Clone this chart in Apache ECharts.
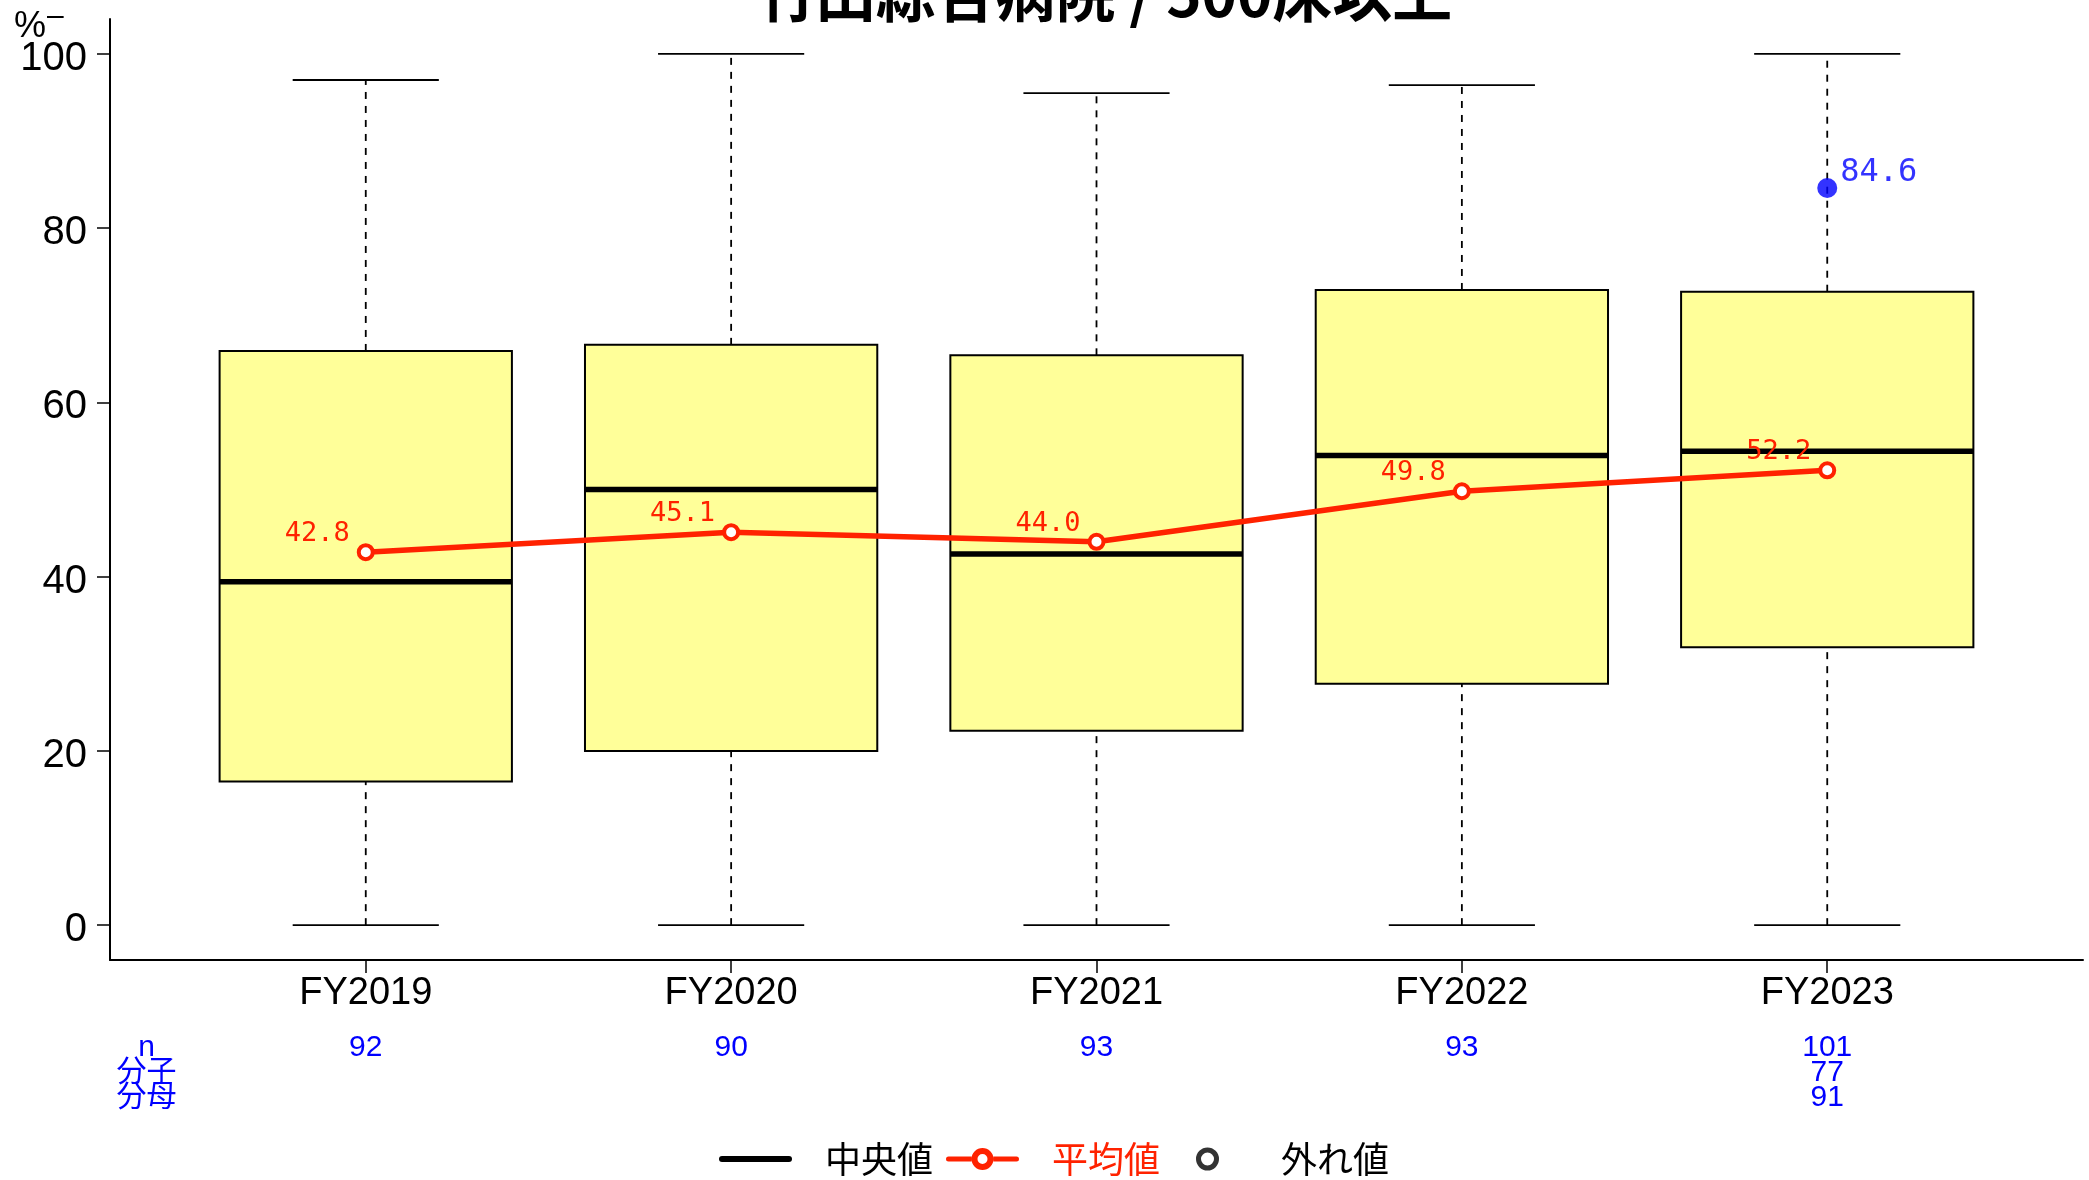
<!DOCTYPE html>
<html>
<head>
<meta charset="utf-8">
<script src="https://cdn.jsdelivr.net/npm/echarts@6/dist/echarts.min.js"></script>
<style>
html,body{margin:0;padding:0;background:#fff;}
#chart{width:2089px;height:1180px;}
</style>
</head>
<body>
<div id="chart"></div>
<script>
const titleText = '竹田綜合病院 / 500床以上';
const categories = ['FY2019', 'FY2020', 'FY2021', 'FY2022', 'FY2023'];
const whiskerLow = [0, 0, 0, 0, 0];
const q1 = [16.5, 20.0, 22.3, 27.7, 31.9];
const median = [39.4, 50.0, 42.6, 53.9, 54.4];
const q3 = [65.9, 66.6, 65.4, 72.9, 72.7];
const whiskerHigh = [97.0, 100, 95.5, 96.4, 100];
const means = [42.8, 45.1, 44.0, 49.8, 52.2];
const hospitalValues = [null, null, null, null, 84.6];
const nCounts = ['92', '90', '93', '93', '101'];
const numerators = ['', '', '', '', '77'];
const denominators = ['', '', '', '', '91'];
const rowHeader = ['n', '分子', '分母'];
const yTicks = [0, 20, 40, 60, 80, 100];
const legendNames = ['中央値', '平均値', '外れ値'];

const latin = '"Liberation Sans Narrow", "Liberation Sans", Arial, sans-serif';
const cjk = '"Liberation Sans", "Noto Sans CJK JP", sans-serif';
const mono = '"DejaVu Sans Mono", monospace';
const RED = '#ff2200';
const BLUE = '#0000ff';

const xPos = categories.map((c, i) => i + 1);
const boxData = categories.map((c, i) => [xPos[i], whiskerLow[i], q1[i], median[i], q3[i], whiskerHigh[i]]);
const meanData = categories.map((c, i) => [xPos[i], means[i]]);
const hospData = [];
hospitalValues.forEach((v, i) => { if (v != null) hospData.push([xPos[i], v]); });

function renderBox(params, api) {
  const x = api.value(0);
  const lo = api.coord([x, api.value(1)]);
  const b1 = api.coord([x, api.value(2)]);
  const md = api.coord([x, api.value(3)]);
  const b3 = api.coord([x, api.value(4)]);
  const hi = api.coord([x, api.value(5)]);
  const halfBox = api.size([0.4, 0])[0];
  const halfCap = api.size([0.2, 0])[0];
  const cx = lo[0];
  const dash = { stroke: '#000', lineWidth: 1.8, lineDash: [7, 7] };
  const solid = { stroke: '#000', lineWidth: 1.8 };
  return {
    type: 'group',
    children: [
      { type: 'line', shape: { x1: cx, y1: b3[1], x2: cx, y2: hi[1] }, style: dash },
      { type: 'line', shape: { x1: cx, y1: lo[1], x2: cx, y2: b1[1] }, style: dash },
      { type: 'line', shape: { x1: cx - halfCap, y1: hi[1], x2: cx + halfCap, y2: hi[1] }, style: solid },
      { type: 'line', shape: { x1: cx - halfCap, y1: lo[1], x2: cx + halfCap, y2: lo[1] }, style: solid },
      { type: 'rect', shape: { x: cx - halfBox, y: b3[1], width: halfBox * 2, height: b1[1] - b3[1] },
        style: { fill: '#ffff99', stroke: '#000', lineWidth: 2 } },
      { type: 'line', shape: { x1: cx - halfBox, y1: md[1], x2: cx + halfBox, y2: md[1] },
        style: { stroke: '#000', lineWidth: 5.5 } }
    ]
  };
}

const medianIcon = 'path://M3,0 H70 A3,3 0 0,1 70,6 H3 A3,3 0 0,1 3,0 Z';
const meanIcon = 'path://M2.5,8.5 H25.5 V13.5 H2.5 A2.5,2.5 0 0,1 2.5,8.5 Z M47.5,8.5 H70.5 A2.5,2.5 0 0,1 70.5,13.5 H47.5 Z ' +
  'M25.5,11 A11,11 0 1,1 47.5,11 A11,11 0 1,1 25.5,11 Z M31.5,11 A5,5 0 1,0 41.5,11 A5,5 0 1,0 31.5,11 Z';

function legendFor(name, left, icon, color, padLeft, itemHeight, itemStyle) {
  return {
    left: left, top: 1141, itemWidth: 73, itemHeight: itemHeight, selectedMode: false, padding: 0,
    textStyle: { fontFamily: '"Noto Sans CJK JP", sans-serif', fontSize: 36, color: color, padding: [0, 0, 0, padLeft] },
    data: [{ name: name, icon: icon, itemStyle: itemStyle }]
  };
}

const chart = echarts.init(document.getElementById('chart'));
chart.setOption({
  animation: false,
  backgroundColor: '#fff',
  title: {
    text: titleText,
    left: 1099,
    textAlign: 'center',
    top: -41,
    textStyle: { fontFamily: '"Noto Sans CJK JP", sans-serif', fontSize: 60, fontWeight: 'bold', color: '#000' }
  },
  graphic: [{
    type: 'text', left: 14, top: 9,
    style: { text: '%', font: '36px "Liberation Sans Narrow", "Liberation Sans", sans-serif', fill: '#000' }
  }, {
    type: 'text', left: 47, top: 2,
    style: { text: '–', font: '30px "Liberation Sans", sans-serif', fill: '#000' }
  }],
  grid: { left: 110, right: 6, top: 19, bottom: 220 },
  xAxis: [{
    type: 'value', min: 0.3, max: 5.7,
    axisLine: { show: true, onZero: false, lineStyle: { color: '#000', width: 2 } },
    axisTick: { show: true, customValues: xPos, length: 13, lineStyle: { color: '#000', width: 1.5 } },
    axisLabel: { customValues: xPos, formatter: v => categories[Math.round(v) - 1], fontFamily: latin, fontSize: 38, color: '#000', margin: 15 },
    splitLine: { show: false }
  }, {
    type: 'value', min: 0.3, max: 5.7, position: 'bottom',
    axisLine: { show: false }, axisTick: { show: false }, splitLine: { show: false },
    axisLabel: {
      customValues: [0.4].concat(xPos),
      formatter: v => {
        if (v < 0.9) return rowHeader.join('\n');
        const i = Math.round(v) - 1;
        const lines = [nCounts[i]];
        if (numerators[i] || denominators[i]) { lines.push(numerators[i]); lines.push(denominators[i]); }
        return lines.join('\n');
      },
      fontFamily: cjk, fontSize: 30, lineHeight: 25, color: BLUE, margin: 75
    }
  }],
  yAxis: {
    type: 'value', min: -4, max: 104,
    axisLine: { show: true, lineStyle: { color: '#000', width: 2 } },
    axisTick: { show: true, customValues: yTicks, length: 13, lineStyle: { color: '#000', width: 1.5 } },
    axisLabel: { customValues: yTicks, fontFamily: latin, fontSize: 40, color: '#000', margin: 23, verticalAlign: 'top', lineHeight: 10 },
    splitLine: { show: false }
  },
  legend: [
    legendFor(legendNames[0], 719, medianIcon, '#000', 28, 25, { color: '#000', borderWidth: 0 }),
    legendFor(legendNames[1], 946, meanIcon, RED, 28, 25, { color: RED, borderWidth: 0 }),
    legendFor(legendNames[2], 1196, 'circle', '#000', 32, 18, { color: '#fff', borderColor: '#000', borderWidth: 5 })
  ],
  series: [
    { type: 'custom', name: 'box', renderItem: renderBox, data: boxData, encode: { x: 0, y: [1, 2, 3, 4, 5] }, z: 2, silent: true },
    { type: 'line', name: legendNames[0], data: [], symbol: 'none', itemStyle: { color: '#000' }, lineStyle: { color: '#000', width: 6 } },
    {
      type: 'line', name: legendNames[1], data: meanData, z: 5,
      symbol: 'circle', symbolSize: 14, showAllSymbol: true,
      lineStyle: { color: RED, width: 5.5 },
      itemStyle: { color: '#fff', borderColor: RED, borderWidth: 4 },
      label: { show: true, position: 'left', distance: 7, offset: [0, -18], formatter: p => p.value[1].toFixed(1),
        fontFamily: mono, fontSize: 27, color: RED }
    },
    { type: 'scatter', name: legendNames[2], data: [], symbol: 'circle', symbolSize: 18,
      itemStyle: { color: '#fff', borderColor: '#000', borderWidth: 4 } },
    {
      type: 'scatter', name: '当院', data: hospData, z: 6, symbol: 'circle', symbolSize: 20,
      itemStyle: { color: BLUE },
      label: { show: true, position: 'right', distance: 3, offset: [0, -15], formatter: p => p.value[1].toFixed(1),
        fontFamily: mono, fontSize: 32, color: BLUE }
    }
  ]
});
</script>
</body>
</html>
